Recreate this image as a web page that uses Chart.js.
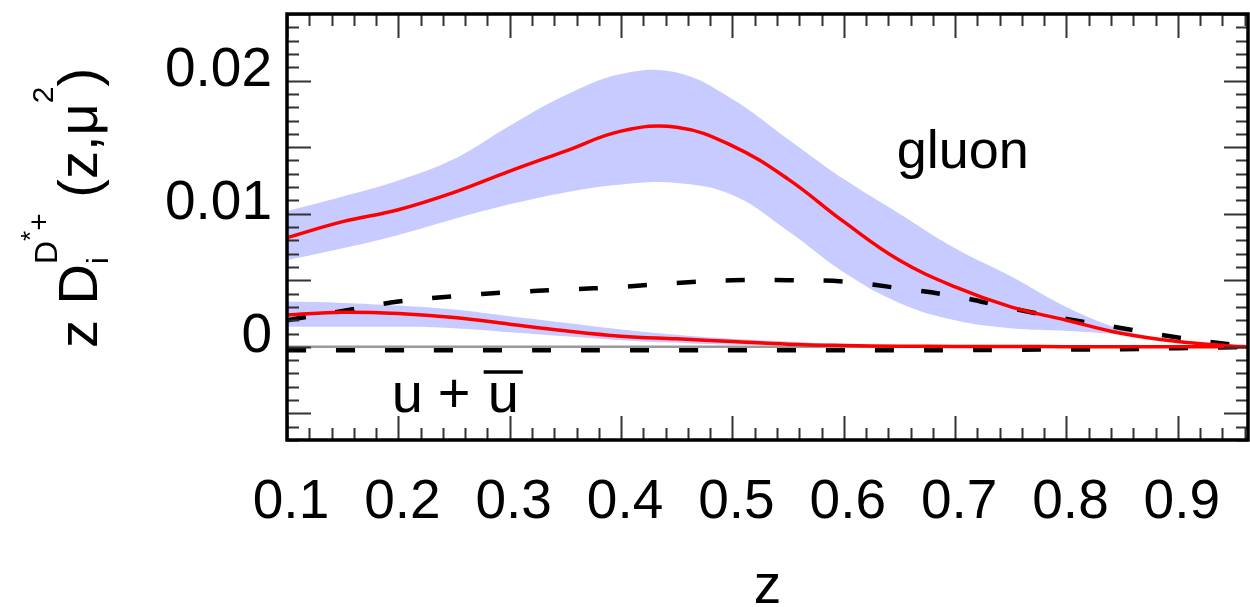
<!DOCTYPE html>
<html><head><meta charset="utf-8">
<script src="https://cdn.jsdelivr.net/npm/chart.js@4/dist/chart.umd.min.js"></script>
<style>html,body{margin:0;padding:0;background:#fff}#wrap{width:1250px;height:607px}</style>
</head><body><div id="wrap"><canvas id="c" width="1250" height="607"></canvas></div>
<script>
// ---- data ----
const zValues      = [0.1, 0.15, 0.2, 0.25, 0.3, 0.35, 0.4, 0.45, 0.5, 0.55, 0.6, 0.65, 0.7, 0.75, 0.8, 0.85, 0.9, 0.95, 0.963];
const gluonCentral = [0.0082,0.0094,0.0103,0.0116,0.0132,0.0147,0.0162,0.0165,0.0151,0.0126,0.0094,0.0065,0.0045,0.0030,0.0020,0.0010,0.0004,0.00005,0];
const gluonHigh    = [0.0102,0.0113,0.0125,0.0141,0.0166,0.0189,0.0205,0.0206,0.0186,0.0156,0.0126,0.0100,0.0074,0.0053,0.0030,0.0013,0.0004,0.00005,0];
const gluonLow     = [0.0065,0.0074,0.0084,0.0096,0.0107,0.0116,0.0122,0.0123,0.0114,0.0087,0.0056,0.0033,0.0020,0.0014,0.0012,0.0009,0.0004,0.00005,0];
const gluonDashed  = [0.0020,0.0027,0.0034,0.0038,0.0041,0.0043,0.0045,0.0048,0.0050,0.0050,0.0049,0.0044,0.0038,0.0029,0.0021,0.0014,0.0007,0.00015,0];
const uCentral     = [0.0024,0.0026,0.0025,0.0022,0.0017,0.0012,0.0008,0.0006,0.0004,0.0002,0.0001,0.00005,0.00003,0.00002,0.00001,0,0,0,0];
const uHigh        = [0.0034,0.0033,0.0031,0.0028,0.0023,0.0018,0.0013,0.0009,0.0006,0.0004,0.0002,0.0001,0.00006,0.00004,0.00002,0.00001,0,0,0];
const uLow         = [0.0015,0.0015,0.0015,0.0014,0.0011,0.0008,0.0005,0.0003,0.00015,0.0001,0.00005,0.00002,0.00001,0,0,0,0,0,0];
const uDashed      = [-0.00025,-0.00025,-0.00025,-0.00025,-0.00025,-0.00025,-0.00025,-0.00025,-0.00025,-0.00025,-0.00025,-0.00025,-0.00025,-0.00022,-0.0002,-0.00018,-0.0001,-0.00003,0];

const xTickValues = [0.1, 0.2, 0.3, 0.4, 0.5, 0.6, 0.7, 0.8, 0.9];
const xTickLabels = ['0.1','0.2','0.3','0.4','0.5','0.6','0.7','0.8','0.9'];
const yTickValues = [0, 0.01, 0.02];
const yTickLabels = ['0','0.01','0.02'];
const xRange = [0.1, 0.963];
const yRange = [-0.007, 0.025];

const FONT = '"Liberation Sans", Arial, Helvetica, sans-serif';
const BAND = 'rgb(200,203,255)';

const pts = arr => zValues.map((z, i) => ({x: z, y: arr[i]}));

function line(data, color, width, dash, order, extra) {
  return Object.assign({
    data: pts(data), borderColor: color, borderWidth: width, borderDash: dash || [],
    pointRadius: 0, fill: false, tension: 0.4, order: order
  }, extra || {});
}

const datasets = [
  line(gluonLow, 'rgba(0,0,0,0)', 0, null, 10),
  line(gluonHigh, 'rgba(0,0,0,0)', 0, null, 10, {fill: '-1', backgroundColor: BAND}),
  line(uLow, 'rgba(0,0,0,0)', 0, null, 9),
  line(uHigh, 'rgba(0,0,0,0)', 0, null, 9, {fill: '-1', backgroundColor: BAND}),
  line(gluonDashed, '#000', 4.5, [19, 30], 2),
  line(uDashed, '#000', 4.5, [19, 30], 2),
  line(gluonCentral, '#ff0000', 3.5, null, 0),
  line(uCentral, '#ff0000', 3.5, null, 0)
];

const decor = {
  id: 'decor',
  beforeDatasetsDraw(chart) {
    const {ctx, chartArea: a, scales: {y}} = chart;
    const y0 = y.getPixelForValue(0);
    ctx.save();
    ctx.strokeStyle = '#9a9a9a'; ctx.lineWidth = 2.5;
    ctx.beginPath(); ctx.moveTo(a.left, y0); ctx.lineTo(a.right, y0); ctx.stroke();
    ctx.restore();
  },
  afterDatasetsDraw(chart) {
    const {ctx, chartArea: a, scales: {x, y}} = chart;
    ctx.save();
    ctx.strokeStyle = '#333'; ctx.lineWidth = 2;
    const MAJ = 24, MIN = 12;
    ctx.beginPath();
    for (let k = 0; ; k++) {
      const v = xRange[0] + k * 0.02;
      if (v > xRange[1] + 1e-9) break;
      const px = Math.round(x.getPixelForValue(v)) + 0.5;
      const len = (k % 5 === 0) ? MAJ : MIN;
      ctx.moveTo(px, a.top); ctx.lineTo(px, a.top + len);
      ctx.moveTo(px, a.bottom); ctx.lineTo(px, a.bottom - len);
    }
    for (let k = -7; k <= 25; k++) {
      const v = k * 0.001;
      const py = Math.round(y.getPixelForValue(v)) + 0.5;
      const len = (((k % 5) + 5) % 5 === 0) ? MAJ : MIN;
      ctx.moveTo(a.left, py); ctx.lineTo(a.left + len, py);
      ctx.moveTo(a.right, py); ctx.lineTo(a.right - len, py);
    }
    ctx.stroke();
    ctx.strokeStyle = '#000'; ctx.lineWidth = 3.5;
    ctx.strokeRect(a.left, a.top, a.right - a.left, a.bottom - a.top);
    ctx.fillStyle = '#000';
    ctx.font = '54px ' + FONT;
    ctx.textBaseline = 'alphabetic';
    ctx.fillText('gluon', x.getPixelForValue(0.6475), y.getPixelForValue(0.01346));
    // "u + ū"
    ctx.font = '56px ' + FONT;
    const ux = x.getPixelForValue(0.194), uy = y.getPixelForValue(-0.0049);
    ctx.fillText('u', ux, uy);
    ctx.fillText('+', ux + 46, uy);
    ctx.fillText('u', ux + 96, uy);
    const wu = ctx.measureText('u').width;
    ctx.lineWidth = 3.5; ctx.strokeStyle = '#000';
    ctx.beginPath(); ctx.moveTo(ux + 92, uy - 40); ctx.lineTo(ux + 96 + wu + 4, uy - 40); ctx.stroke();
    ctx.restore();
  },
  afterDraw(chart) {
    const ctx = chart.ctx;
    ctx.save();
    ctx.translate(97, 348);
    ctx.rotate(-Math.PI / 2);
    ctx.fillStyle = '#000';
    ctx.textBaseline = 'alphabetic';
    let cx = 0;
    const seg = (t, size, dy, advance) => {
      ctx.font = size + 'px ' + FONT;
      ctx.fillText(t, cx, dy);
      const w = ctx.measureText(t).width;
      if (advance !== false) cx += w;
      return w;
    };
    seg('z D', 56, 0);
    const xs = cx;
    const wi = seg('i', 30, 11, false);
    seg('D', 32, -40);
    seg('*', 26, -58);
    seg('+', 30, -48);
    cx = Math.max(cx, xs + wi);
    seg(' (z,\u03bc', 56, 0);
    seg('2', 30, -44);
    seg(')', 56, 0);
    ctx.restore();
  }
};

new Chart(document.getElementById('c'), {
  type: 'line',
  data: { datasets },
  plugins: [decor],
  options: {
    responsive: false, animation: false, devicePixelRatio: 1,
    layout: { padding: { top: 14, right: 2, left: 0, bottom: 0 } },
    plugins: { legend: { display: false }, tooltip: { enabled: false } },
    scales: {
      x: {
        type: 'linear', min: xRange[0], max: xRange[1],
        grid: { display: false, drawTicks: false }, border: { display: false },
        afterBuildTicks: s => { s.ticks = xTickValues.map(v => ({value: v})); },
        afterFit: s => { s.height = 167; s.paddingLeft = 0; s.paddingRight = 0; },
        ticks: {
          autoSkip: false, maxRotation: 0, padding: 30, color: '#000',
          font: { size: 55, family: FONT }, labelOffset: 4,
          callback: (v) => { const i = xTickValues.findIndex(t => Math.abs(t - v) < 1e-9); return i >= 0 ? xTickLabels[i] : ''; }
        },
        title: { display: true, text: 'z', color: '#000', font: { size: 55, family: FONT, lineHeight: 0.7 }, padding: { top: 0, bottom: 0 } }
      },
      y: {
        type: 'linear', min: yRange[0], max: yRange[1],
        grid: { display: false, drawTicks: false }, border: { display: false },
        afterBuildTicks: s => { s.ticks = yTickValues.map(v => ({value: v})); },
        afterFit: s => { s.width = 287; s.paddingTop = 0; s.paddingBottom = 0; },
        ticks: {
          autoSkip: false, padding: 15, color: '#000', labelOffset: -10,
          font: { size: 55, family: FONT },
          callback: (v) => { const i = yTickValues.findIndex(t => Math.abs(t - v) < 1e-9); return i >= 0 ? yTickLabels[i] : ''; }
        }
      }
    }
  }
});
</script></body></html>
